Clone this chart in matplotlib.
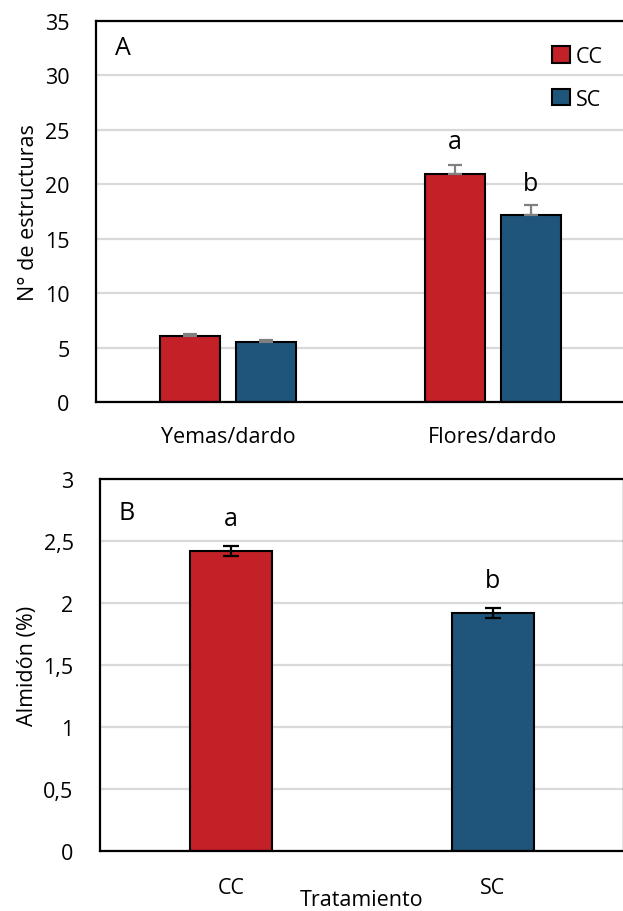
import numpy as np
import matplotlib.pyplot as plt

plt.rcParams['font.family'] = ['Open Sans', 'DejaVu Sans']

# panel A: structures per spur
grupos = ['Yemas/dardo', 'Flores/dardo']
cc_vals = [6.05, 20.9]
sc_vals = [5.55, 17.2]
cc_err = [0.2, 0.9]
sc_err = [0.15, 0.9]

# panel B: starch
tratamientos = ['CC', 'SC']
almidon = [2.42, 1.92]
almidon_err = [0.04, 0.04]
letras_b = ['a', 'b']

rojo = '#C32027'
azul = '#1F557B'
grid_col = '#D9D9D9'
fs = 15.5

W, H = 623, 912
fig = plt.figure(figsize=(W / 100, H / 100), dpi=100)

def box(l, t, r, b):
    return [l / W, 1 - b / H, (r - l) / W, (b - t) / H]

def estilo(ax):
    ax.yaxis.grid(True, color=grid_col, lw=1.6)
    ax.set_axisbelow(True)
    for s in ax.spines.values():
        s.set_linewidth(1.6)
        s.set_color('black')
    ax.tick_params(length=0, labelsize=fs)

# ---- A ----
axA = fig.add_axes(box(96, 22, 625, 403))
x = np.arange(len(grupos))
off = 0.1437
w = 0.227
axA.bar(x - off, cc_vals, w, color=rojo, edgecolor='black', lw=1.5, label='CC', zorder=2)
axA.bar(x + off, sc_vals, w, color=azul, edgecolor='black', lw=1.5, label='SC', zorder=2)
axA.errorbar(x - off, cc_vals, yerr=[np.zeros(2), cc_err], fmt='none', ecolor='#808080',
             elinewidth=1.6, capsize=5, capthick=1.6, zorder=3)
axA.errorbar(x + off, sc_vals, yerr=[np.zeros(2), sc_err], fmt='none', ecolor='#808080',
             elinewidth=1.6, capsize=5, capthick=1.6, zorder=3)
axA.set_xlim(-0.5, 1.5)
axA.set_ylim(0, 35)
axA.set_yticks(range(0, 36, 5))
axA.set_xticks(x)
axA.set_xticklabels(grupos)
estilo(axA)
axA.tick_params(axis='y', pad=19)
axA.tick_params(axis='x', pad=17)
axA.set_ylabel('N° de estructuras', fontsize=fs, labelpad=4)
axA.text(0.05, 0.93, 'A', transform=axA.transAxes, fontsize=18, va='center', ha='center')
axA.text(1 - off, cc_vals[1] + cc_err[1] + 2.1, 'a', ha='center', va='center', fontsize=18)
axA.text(1 + off, sc_vals[1] + sc_err[1] + 2.0, 'b', ha='center', va='center', fontsize=18)
axA.legend(loc='upper right', bbox_to_anchor=(0.995, 0.985), frameon=False, fontsize=fs,
           handlelength=0.8, handleheight=0.8, handletextpad=0.3, labelspacing=1.0)

# ---- B ----
axB = fig.add_axes(box(100, 480, 624, 852))
xb = np.arange(len(tratamientos))
axB.bar(xb, almidon, 0.313, color=[rojo, azul], edgecolor='black', lw=1.5, zorder=2)
axB.errorbar(xb, almidon, yerr=almidon_err, fmt='none', ecolor='black',
             elinewidth=1.6, capsize=6, capthick=1.6, zorder=3)
axB.set_xlim(-0.5, 1.5)
axB.set_ylim(0, 3)
axB.set_yticks(np.arange(0, 3.01, 0.5))
axB.set_yticklabels(['0', '0,5', '1', '1,5', '2', '2,5', '3'])
axB.set_xticks(xb)
axB.set_xticklabels(tratamientos)
estilo(axB)
axB.tick_params(axis='y', pad=19)
axB.tick_params(axis='x', pad=19)
axB.set_ylabel('Almidón (%)', fontsize=fs, labelpad=4)
fig.text(362 / W, 1 / H, 'Tratamiento', fontsize=fs, ha='center', va='bottom')
axB.text(0.05, 0.91, 'B', transform=axB.transAxes, fontsize=18, va='center', ha='center')
for xi, v, e, l in zip(xb, almidon, almidon_err, letras_b):
    axB.text(xi, v + e + 0.22, l, ha='center', va='center', fontsize=18)

fig.savefig('out.png', dpi=100)
